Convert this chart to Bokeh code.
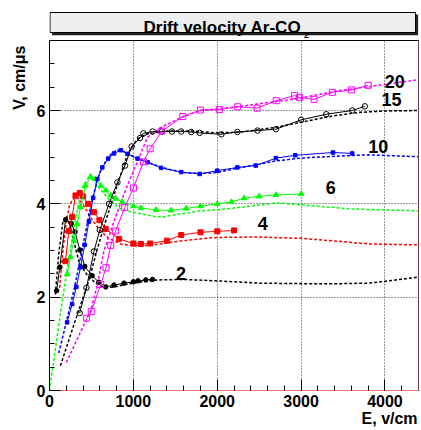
from bokeh.plotting import figure
from bokeh.layouts import column
from bokeh.models import FixedTicker, Range1d, Span
from bokeh.core.properties import value
from bokeh.embed import file_html
from bokeh.resources import INLINE

# ---------------- data (E in V/cm, V in cm/us) ----------------
e2_meas = [85, 123, 191, 259, 305, 362, 421, 509, 588, 670, 769, 889, 1001, 1056, 1148, 1228]
v2_meas = [2.14, 2.64, 3.66, 3.58, 3.40, 3.01, 2.66, 2.46, 2.32, 2.22, 2.26, 2.30, 2.33, 2.35, 2.37, 2.38]
e2_sim = [70, 110, 160, 200, 250, 300, 350, 450, 550, 650, 750, 900, 1100, 1300, 1600, 2000, 2500, 3000, 3500, 3800, 4000, 4400]
v2_sim = [2.06, 2.92, 3.62, 3.74, 3.52, 3.12, 2.77, 2.47, 2.30, 2.21, 2.21, 2.27, 2.33, 2.37, 2.38, 2.35, 2.30, 2.29, 2.29, 2.30, 2.34, 2.43]

e4_meas = [190, 230, 270, 310, 360, 400, 460, 530, 595, 670, 830, 1000, 1090, 1200, 1400, 1570, 1800, 2000, 2200]
v4_meas = [2.77, 3.42, 3.72, 4.18, 4.23, 4.16, 4.00, 3.82, 3.65, 3.46, 3.25, 3.15, 3.14, 3.15, 3.21, 3.33, 3.39, 3.41, 3.43]
e4_sim = [120, 160, 200, 240, 300, 350, 420, 500, 600, 700, 850, 1000, 1200, 1500, 1800, 2000, 2500, 3000, 3500, 3800, 4400]
v4_sim = [2.20, 3.00, 3.62, 3.98, 4.15, 4.11, 3.93, 3.68, 3.44, 3.27, 3.14, 3.10, 3.11, 3.19, 3.25, 3.28, 3.29, 3.26, 3.19, 3.14, 3.12]

e6_meas = [210, 250, 290, 330, 370, 430, 490, 550, 610, 670, 730, 790, 870, 1000, 1090, 1270, 1450, 1630, 1800, 2000, 2170, 2320, 2500, 2700, 3000]
v6_meas = [2.49, 2.86, 3.21, 3.57, 3.93, 4.39, 4.58, 4.53, 4.39, 4.29, 4.18, 4.11, 4.04, 3.95, 3.91, 3.87, 3.86, 3.90, 3.95, 4.00, 4.04, 4.12, 4.16, 4.19, 4.21]
e6_sim = [0, 130, 190, 250, 300, 350, 400, 460, 520, 600, 700, 850, 1000, 1250, 1350, 1550, 1800, 2050, 2300, 2700, 3000, 3600, 4400]
v6_sim = [0.00, 1.65, 2.36, 3.02, 3.58, 4.03, 4.38, 4.55, 4.51, 4.33, 4.11, 3.89, 3.82, 3.73, 3.72, 3.78, 3.85, 3.88, 3.93, 4.02, 3.98, 3.89, 3.85]

e10_meas = [210, 270, 320, 370, 420, 470, 520, 570, 630, 700, 770, 850, 930, 1050, 1170, 1330, 1570, 1790, 2000, 2240, 2460, 2700, 2930, 3380, 3610]
v10_meas = [1.46, 1.85, 2.22, 2.64, 3.12, 3.62, 4.13, 4.53, 4.78, 4.97, 5.08, 5.15, 5.07, 4.97, 4.89, 4.77, 4.68, 4.64, 4.71, 4.78, 4.82, 4.98, 5.04, 5.10, 5.08]
e10_sim = [110, 200, 300, 400, 500, 600, 700, 800, 900, 1000, 1200, 1400, 1600, 1800, 2000, 2200, 2500, 2700, 3000, 3400, 3800, 4400]
v10_sim = [0.80, 1.46, 2.22, 3.12, 4.03, 4.68, 5.01, 5.16, 5.11, 5.01, 4.87, 4.75, 4.67, 4.65, 4.67, 4.75, 4.85, 4.92, 4.98, 5.02, 5.05, 5.01]

e15_meas = [360, 440, 530, 600, 710, 810, 900, 980, 1080, 1120, 1230, 1340, 1460, 1570, 1690, 1790, 2050, 2240, 2480, 2700, 3000, 3300, 3610, 3760]
v15_meas = [1.66, 2.20, 2.98, 3.44, 4.00, 4.46, 4.82, 5.23, 5.41, 5.51, 5.55, 5.55, 5.55, 5.55, 5.54, 5.52, 5.49, 5.54, 5.57, 5.60, 5.80, 5.92, 6.00, 6.09]
e15_sim = [130, 300, 470, 560, 650, 750, 850, 930, 1050, 1170, 1400, 1700, 2000, 2300, 2700, 3000, 3400, 3700, 4000, 4400]
v15_sim = [0.53, 1.46, 2.36, 2.97, 3.52, 4.08, 4.63, 5.07, 5.39, 5.50, 5.56, 5.56, 5.52, 5.54, 5.64, 5.75, 5.89, 5.96, 5.99, 6.00]

e20_meas = [443, 498, 610, 674, 730, 789, 897, 1001, 1120, 1200, 1340, 1590, 1800, 2025, 2244, 2476, 2703, 2922, 2982, 3154, 3373, 3600, 3800]
v20_meas = [1.55, 1.69, 2.27, 2.63, 3.11, 3.42, 3.92, 4.34, 4.90, 5.18, 5.56, 5.87, 6.01, 6.02, 6.08, 6.05, 6.21, 6.32, 6.28, 6.24, 6.39, 6.44, 6.54]
e20_sim = [200, 490, 570, 650, 780, 890, 1050, 1170, 1330, 1570, 1800, 2200, 2600, 2920, 3400, 3800, 4400]
v20_sim = [0.60, 1.71, 2.25, 3.00, 3.68, 4.22, 4.92, 5.43, 5.64, 5.85, 6.00, 6.07, 6.17, 6.24, 6.41, 6.51, 6.66]

curve_names = ["2", "4", "6", "10", "15", "20"]
x_ticks = [0, 1000, 2000, 3000, 4000]
y_ticks = [0, 2, 4, 6]
title_main = "Drift velocity Ar-CO"
title_sub = "2"
x_title = "E, v/cm"
y_title = "V, cm/\u03bcs"
FONT = "Liberation Sans"
NBSP = "\u00a0"

# ---------------- title strip (ROOT-like title box) ----------------
# its frame is aligned by the column layout with the main frame (page x 49..418),
# so the x range is chosen to map one unit to one pixel of the page.
t = figure(width=421, height=40, x_range=Range1d(49, 418), y_range=Range1d(40, 0),
           min_border=0, x_axis_location=None, y_axis_location=None,
           output_backend="svg", toolbar_location=None)
t.outline_line_color = None
t.xgrid.visible = False
t.ygrid.visible = False
t.border_fill_color = "white"
t.background_fill_color = "white"
t.quad(left=51.5, right=417.7, top=14, bottom=34.7, fill_color="#222222", line_color=None)
t.quad(left=49.5, right=415, top=12, bottom=32, fill_color="#eeeeee", line_color="black", line_width=1)
t.text(x=[143], y=[26.5], text=[title_main], text_align="left", text_baseline="alphabetic",
       text_font=value(FONT), text_font_style="bold", text_font_size="17px", text_color="black")
t.text(x=[303.5], y=[34.3], text=[title_sub], text_align="left", text_baseline="alphabetic",
       text_font=value(FONT), text_font_style="bold", text_font_size="9px", text_color="black")

# ---------------- main figure ----------------
p = figure(width=421, height=390,
           min_border_left=49, min_border_top=0, min_border_right=3, min_border_bottom=40,
           x_range=Range1d(0, 4400), y_range=Range1d(0, 7.5),
           output_backend="svg", toolbar_location=None)
p.outline_line_color = "black"
p.background_fill_color = "white"
p.border_fill_color = "white"

x_minor = [v for v in range(0, 4401, 200)]
y_minor = [k * 0.5 for k in range(0, 16)]

for ax in (p.xaxis[0], p.yaxis[0]):
    ax.major_tick_out = 0
    ax.minor_tick_out = 0
    ax.major_tick_in = 11
    ax.minor_tick_in = 5
    ax.major_label_text_font = FONT
    ax.major_label_text_font_style = "bold"
    ax.major_label_text_font_size = "16px"
    ax.major_label_text_color = "black"
    ax.major_tick_line_color = "black"
    ax.minor_tick_line_color = "black"
    ax.major_label_standoff = 4
    ax.axis_label_text_font = FONT
    ax.axis_label_text_font_style = "bold"
    ax.axis_label_text_font_size = "16px"
    ax.axis_label_text_color = "black"
    ax.axis_label_standoff = 0

xa = p.xaxis[0]
ya = p.yaxis[0]
xa.ticker = FixedTicker(ticks=x_ticks, minor_ticks=x_minor)
ya.ticker = FixedTicker(ticks=y_ticks, minor_ticks=y_minor)
xa.axis_line_color = "#e87878"
ya.axis_line_color = "black"
xa.axis_label = NBSP * 70 + x_title
ya.axis_label = NBSP * 62 + y_title
ya.axis_label_standoff = 6

p.add_layout(Span(location=4400, dimension="height", line_color="#e87878", line_width=1))

p.xgrid.ticker = FixedTicker(ticks=x_ticks[1:])
p.ygrid.ticker = FixedTicker(ticks=y_ticks[1:])
for g in (p.xgrid[0], p.ygrid[0]):
    g.grid_line_color = "#333333"
    g.grid_line_dash = "1 2"
    g.grid_line_width = 1

# ---------------- curves ----------------
sims = [(e2_sim, v2_sim, "black"), (e4_sim, v4_sim, "#ff0000"), (e6_sim, v6_sim, "#00ff00"),
        (e10_sim, v10_sim, "#0000ff"), (e15_sim, v15_sim, "black"), (e20_sim, v20_sim, "#ff00ff")]
for ex, vy, c in sims:
    p.line(ex, vy, line_color=c, line_width=1.5, line_dash="3 2")

p.line(e2_meas, v2_meas, line_color="black", line_width=1)
p.scatter(e2_meas, v2_meas, marker="circle", size=4.5, fill_color="black", line_color="black")

p.line(e4_meas, v4_meas, line_color="#ff0000", line_width=1)
p.scatter(e4_meas, v4_meas, marker="square", size=5, fill_color="#ff0000", line_color="#ff0000")

p.line(e6_meas, v6_meas, line_color="#00ff00", line_width=1)
p.scatter(e6_meas, v6_meas, marker="triangle", size=5.5, fill_color="#00ff00", line_color="#00ff00")

p.line(e10_meas, v10_meas, line_color="#0000ff", line_width=1)
p.scatter(e10_meas, v10_meas, marker="square", size=3.5, fill_color="#0000ff", line_color="#0000ff")

p.line(e15_meas, v15_meas, line_color="black", line_width=1)
p.scatter(e15_meas, v15_meas, marker="circle", size=5.5, fill_alpha=0, line_color="black", line_width=1)

p.line(e20_meas, v20_meas, line_color="#ff00ff", line_width=1)
p.scatter(e20_meas, v20_meas, marker="square", size=6, fill_alpha=0, line_color="#ff00ff", line_width=1)

# curve labels (CO2 percentage), placed near each curve's right end
lab_x = [1567, 2544, 3353, 3919, 4077, 4118]
lab_y = [2.50, 3.57, 4.36, 5.23, 6.23, 6.63]
p.text(x=lab_x, y=lab_y, text=curve_names, text_align="center", text_baseline="middle",
       text_font=value(FONT), text_font_style="bold", text_font_size="18px", text_color="black")

layout = column(t, p, spacing=0)
open("out.html", "w").write(file_html(layout, INLINE))
